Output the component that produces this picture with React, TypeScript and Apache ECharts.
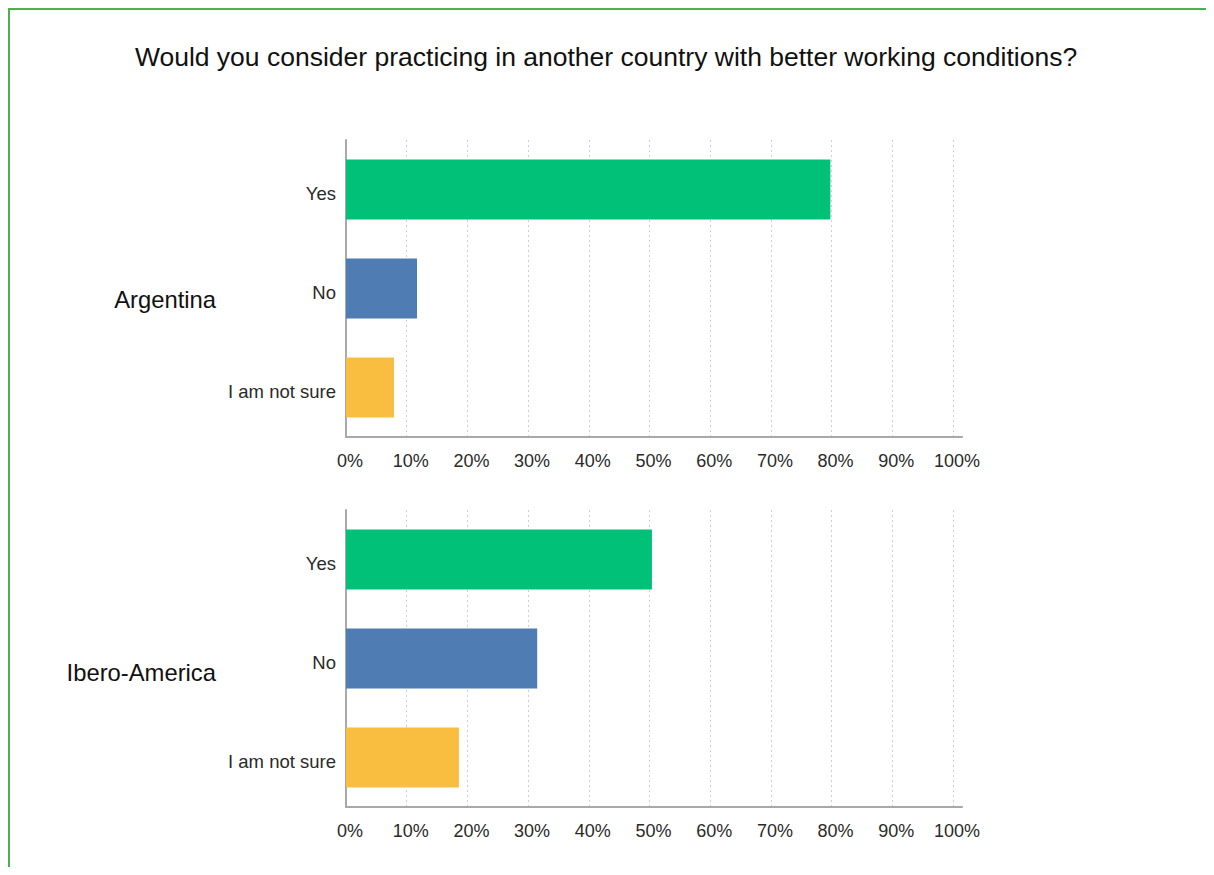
import React, { useEffect, useRef } from "react";
import * as echarts from "echarts";

const TITLE = "Would you consider practicing in another country with better working conditions?";
const categories = ["Yes", "No", "I am not sure"];
const groups = ["Argentina", "Ibero-America"];
const argentina = [79.8, 11.7, 7.9];
const iberoAmerica = [50.4, 31.5, 18.6];
const tickValues = [0, 10, 20, 30, 40, 50, 60, 70, 80, 90, 100];
const barColors = ["#00C177", "#4F7DB3", "#F9BD40"];

const FONT = "'Liberation Sans', Arial, Helvetica, sans-serif";

export default function App() {
  const ref = useRef<HTMLDivElement>(null);

  useEffect(() => {
    document.body.style.overflow = "hidden";
    if (!ref.current) return;
    const chart = echarts.init(ref.current, undefined, { renderer: "svg" });

    const axisMax = 101.5;
    const plotW = 607 * axisMax / 100;
    const gridTops = [130, 500];
    const gridH = 297;

    const splitColors = tickValues.map(() => "#cfcfcf").concat(["rgba(0,0,0,0)"]);

    const seriesData = [argentina, iberoAmerica];

    const option: any = {
      animation: false,
      backgroundColor: "#ffffff",
      textStyle: { fontFamily: FONT },
      grid: gridTops.map((t) => ({
        left: 336,
        top: t,
        width: plotW,
        height: gridH,
        containLabel: false,
      })),
      xAxis: gridTops.map((_, i) => ({
        type: "value",
        gridIndex: i,
        min: 0,
        max: axisMax,
        interval: 10,
        axisLine: { show: true, lineStyle: { color: "#a9a9a9", width: 2 } },
        axisTick: { show: false },
        axisLabel: {
          color: "#2a2a2a",
          fontSize: 18,
          fontFamily: FONT,
          margin: 15,
          padding: [0, 0, 0, 8],
          showMaxLabel: true,
          formatter: (v: number) => (tickValues.indexOf(v) >= 0 ? v + "%" : ""),
        },
        splitLine: {
          show: true,
          lineStyle: { color: splitColors, type: [2, 3], width: 1 },
        },
      })),
      yAxis: gridTops.map((_, i) => ({
        type: "category",
        gridIndex: i,
        data: categories,
        inverse: true,
        axisLine: { show: true, lineStyle: { color: "#a9a9a9", width: 2 } },
        axisTick: { show: false },
        axisLabel: {
          color: "#2a2a2a",
          fontSize: 18.5,
          fontFamily: FONT,
          margin: 10,
          verticalAlign: "top",
          lineHeight: 8,
        },
        splitLine: { show: false },
      })),
      series: seriesData.map((vals, i) => ({
        type: "bar",
        xAxisIndex: i,
        yAxisIndex: i,
        barWidth: 60,
        data: vals.map((v, j) => ({ value: v, itemStyle: { color: barColors[j] } })),
      })),
      graphic: [
        {
          type: "text",
          x: 596,
          y: 47,
          style: {
            text: TITLE,
            fontSize: 26.5,
            fontFamily: FONT,
            fill: "#111111",
            textAlign: "center",
            textVerticalAlign: "middle",
          },
        },
        ...groups.map((g, i) => ({
          type: "text",
          x: 206,
          y: [289, 662][i],
          style: {
            text: g,
            fontSize: 23.8,
            fontFamily: FONT,
            fill: "#111111",
            textAlign: "right",
            textVerticalAlign: "middle",
          },
        })),
      ],
    };

    chart.setOption(option);
    return () => chart.dispose();
  }, []);

  return (
    <div
      style={{
        width: 1206,
        height: 859,
        boxSizing: "border-box",
        borderTop: "2px solid #4CAF50",
        borderLeft: "2px solid #4CAF50",
        overflow: "hidden",
      }}
    >
      <div ref={ref} style={{ width: 1204, height: 857 }} />
    </div>
  );
}
